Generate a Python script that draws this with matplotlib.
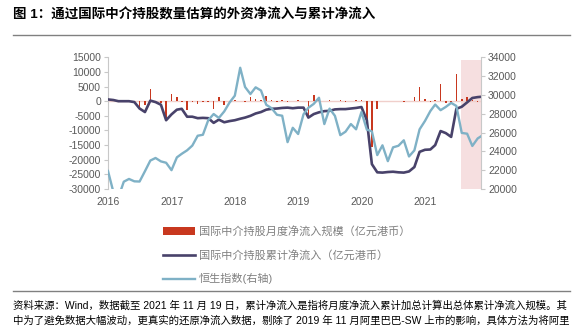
import numpy as np
import pandas as pd
import matplotlib
matplotlib.use('Agg')
import matplotlib.pyplot as plt
import matplotlib.dates as mdates
from matplotlib.lines import Line2D

plt.rcParams['font.family'] = ['Liberation Sans', 'Noto Sans CJK SC']
plt.rcParams['axes.unicode_minus'] = False

# month-end points, Dec 2015 .. Oct 2021, plus 19 Nov 2021
dates = list(pd.date_range('2015-12-31', '2021-10-31', freq='ME')) + [pd.Timestamp('2021-11-19')]

# monthly net inflow (亿元港币)
flow = [0,
        0, 0, 0, 0, -300, -2200, -1400, 4000, -300, -500, -6500, 2300,           # 2016
        1500, -200, -3000, -200, -1000, -200, -200, -2500, 1300, -1400, -300, 500,  # 2017
        200, -200, 1500, 900, 300, 1700, 300, -300, 500, -300, 200, 500,           # 2018
        200, -5100, 2000, 300, 200, 500, 200, 300, -200, 200, 300, 300,           # 2019
        -6500, -15700, -2500, -100, 200, 200, 200, -200, 200, 1300, 4900, 900,    # 2020
        -300, 500, 5800, -500, -800, 9200, 900, 1500, 300, -200,                 # 2021 Jan-Oct
        200]                                                                      # Nov 19

# cumulative net inflow (亿元港币)
cum = [600,
       400, 0, 0, 0, -300, -2500, -3700, 200, -300, -1200, -6500, -4500,
       -2900, -2600, -5300, -5300, -5800, -5700, -5800, -7400, -6300, -7200, -6800, -6500,
       -6000, -5600, -5000, -4200, -3700, -2900, -2600, -2500, -2300, -2200, -2400, -2200,
       -2200, -5600, -4400, -3800, -3400, -3300, -2800, -2700, -2700, -2500, -2300, -2000,
       -6500, -21500, -24300, -24400, -24200, -24100, -24300, -24400, -24000, -22500, -17300, -16600,
       -16500, -15000, -10200, -10900, -12200, -2600, -1900, -400, 1100, 1400,
       1500]

# Hang Seng Index (right axis)
hsi = [21914,
       19683, 19111, 20777, 21067, 20815, 20794, 21891, 23023, 23297, 22935, 22790, 22001,
       23361, 23741, 24112, 24615, 25661, 25765, 27324, 27970, 27554, 28246, 29177, 29919,
       32887, 30845, 30093, 30808, 30469, 28955, 28583, 27889, 27789, 24980, 26507, 25846,
       27942, 28633, 29051, 29699, 26901, 28543, 27778, 25725, 26092, 26907, 26346, 28190,
       26313, 26130, 23603, 24644, 22961, 24427, 24595, 25177, 23459, 24107, 26341, 27231,
       28284, 28980, 28378, 28725, 29152, 28828, 25961, 25879, 24576, 25377,
       25600]

labels = ['国际中介持股月度净流入规模（亿元港币）',
          '国际中介持股累计净流入（亿元港币）',
          '恒生指数(右轴)']
title = '图 1：通过国际中介持股数量估算的外资净流入与累计净流入'
note1 = '资料来源：Wind，数据截至 2021 年 11 月 19 日，累计净流入是指将月度净流入累计加总计算出总体累计净流入规模。其'
note2 = '中为了避免数据大幅波动，更真实的还原净流入数据，剔除了 2019 年 11 月阿里巴巴-SW 上市的影响，具体方法为将阿里'

W, H = 582, 327
fig = plt.figure(figsize=(W / 100, H / 100), dpi=100)
ax = fig.add_axes([108 / W, 1 - 189 / H, (481 - 108) / W, (189 - 57.3) / H])
ax2 = ax.twinx()

grey = '#595959'
ax.axvspan(pd.Timestamp('2021-07-26'), pd.Timestamp('2021-11-19'), ymax=0.98,
           color='#f6dfe0', zorder=0, lw=0)
ax.axhline(0, color='#f0cfcb', lw=1, zorder=1)
bars = ax.bar(dates, flow, width=9, color='#c8381f', zorder=2)
navy, = ax.plot(dates, cum, color='#48426a', lw=1.9, zorder=3)
hs, = ax2.plot(dates, hsi, color='#7fb1c6', lw=1.7)

ax.set_xlim(pd.Timestamp('2015-12-31'), pd.Timestamp('2021-11-19'))
ax.set_ylim(-30000, 15000)
ax.set_yticks(range(-30000, 15001, 5000))
ax2.set_ylim(20000, 34000)
ax2.set_yticks(range(20000, 34001, 2000))
ax.xaxis.set_major_locator(mdates.YearLocator())
ax.xaxis.set_major_formatter(mdates.DateFormatter('%Y'))

for a in (ax, ax2):
    for s in ('top', 'bottom'):
        a.spines[s].set_visible(False)
    a.spines['left'].set_color('#c8c8c8')
    a.spines['right'].set_color('#c8c8c8')
    a.tick_params(axis='y', labelsize=7.5, labelcolor=grey, color='#c8c8c8', length=3, pad=2)
ax.spines['right'].set_visible(False)
ax2.spines['left'].set_visible(False)
ax.tick_params(axis='x', labelsize=7.5, labelcolor=grey, length=0, pad=6)

fig.legend([bars, navy, hs], labels, loc='upper left',
           bbox_to_anchor=(163 / W, 1 - 226 / H), frameon=False, fontsize=8,
           labelcolor='#808080', handlelength=2.9, handletextpad=0.3,
           labelspacing=1.15, borderpad=0, borderaxespad=0)

fig.text(13 / W, 1 - 15 / H, title, fontsize=9.7, fontweight='bold', va='center')
fig.add_artist(Line2D([13 / W, 570 / W], [1 - 35 / H] * 2, color='#808080', lw=1))
fig.add_artist(Line2D([13 / W, 570 / W], [1 - 291 / H] * 2, color='#808080', lw=1))
fig.text(13 / W, 1 - 306 / H, note1, fontsize=7.5, va='center')
fig.text(13 / W, 1 - 321 / H, note2, fontsize=7.5, va='center')

fig.savefig('out.png', dpi=100)
